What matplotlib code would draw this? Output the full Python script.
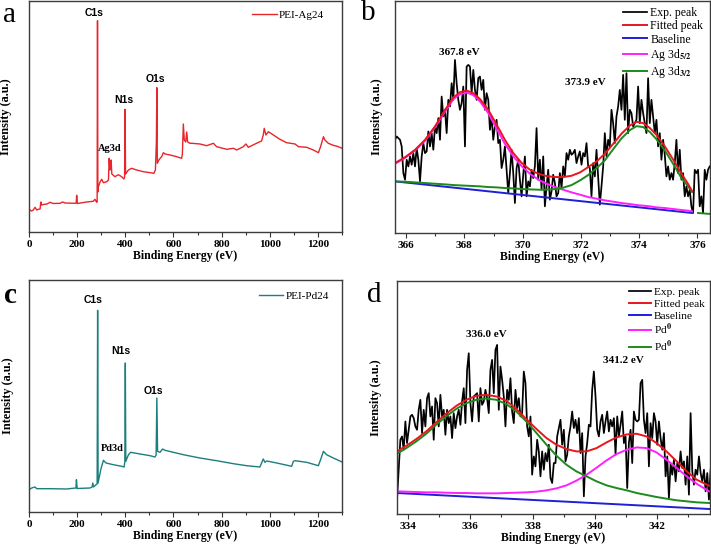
import numpy as np
import matplotlib
matplotlib.use('Agg')
import matplotlib.pyplot as plt
from matplotlib.ticker import MultipleLocator

plt.rcParams['font.family'] = ['Liberation Serif', 'DejaVu Serif']
plt.rcParams['font.weight'] = 'bold'
plt.rcParams['axes.labelweight'] = 'bold'
plt.rcParams['mathtext.fontset'] = 'stix'

# ---- survey spectra (binding energy in eV, intensity in a.u.) ----
ag_survey_ev = [0, 10, 18, 25, 32, 39, 46, 49, 52, 60, 75, 87, 100, 129, 140, 150, 191, 196, 198, 201,
                240, 267, 274, 281, 283, 284.5, 286, 288, 295, 302, 309, 323, 330, 333, 336, 338, 341, 344,
                357, 371, 385, 394, 397, 399, 401, 403, 413, 426, 447, 475, 503, 519, 525, 529, 531, 533,
                541, 551, 558, 565, 586, 613, 634, 637, 641, 645, 651, 655, 659, 668, 676, 710, 738, 766,
                779, 821, 849, 863, 890, 901, 911, 939, 959, 966, 973, 977, 984, 994, 1015, 1042, 1070,
                1105, 1119, 1153, 1181, 1202, 1211, 1223, 1229, 1243, 1264, 1285, 1300]
ag_survey_cps = [22.7, 21, 22, 24.7, 22, 22.7, 23, 30, 27, 27.5, 28, 29.7, 28.5, 28.7, 30, 29, 28.7, 29, 36.7, 28.5,
                 30, 30.7, 32.7, 29.7, 30, 211.3, 40, 45, 50, 52.7, 49.3, 50.3, 52, 73.7, 62, 65, 72, 58,
                 55.3, 57.3, 55.3, 53, 55, 122.7, 58, 58.7, 62, 63.7, 62, 60.3, 59.3, 58.7, 62, 90, 144.3, 68.7,
                 72.7, 75.3, 79.3, 78, 77, 75.3, 73.7, 78, 108, 92, 90, 100, 90, 88.7, 88.7, 88, 86.3, 88.7,
                 85.3, 82.7, 83.7, 82, 85.3, 88, 84.7, 88, 90.3, 91, 97, 103.7, 97, 100.3, 97, 92.7, 89.3,
                 88, 85.3, 84.7, 82, 79.3, 85.3, 95.3, 92, 88.7, 86.7, 85.3, 83.7]

pd_survey_ev = [0, 11, 25, 32, 87, 156, 195, 197, 200, 253, 262, 265, 268, 278, 283, 285, 287, 298, 309,
                320, 350, 385, 395, 398, 400, 402, 413, 422, 461, 503, 523, 528, 531, 534, 544, 555, 565,
                641, 710, 779, 849, 904, 959, 966, 973, 980, 987, 1029, 1091, 1098, 1105, 1153, 1202, 1211,
                1223, 1236, 1264, 1300]
pd_survey_cps = [22.3, 24, 25, 23.3, 23.3, 23, 24, 32.3, 23.5, 24, 25, 29, 25, 27.3, 28, 201.7, 29, 42.3, 51.7,
                 49, 47.3, 45.7, 45, 50, 149, 50.7, 57.3, 59.7, 58, 56.3, 55, 57, 114, 60.7, 59.7, 63, 61.7,
                 57.3, 54, 51.3, 48.3, 46.3, 45, 49, 53, 49.7, 51, 49, 45.7, 50.7, 51.3, 49.7, 46.3, 52.3,
                 60.7, 57.3, 54, 50]

# ---- Ag 3d high resolution ----
ag_exp_range = (365.62, 376.42)
ag_exp_cps = [280, 290, 285, 280, 260, 180, 160, 220, 200, 230, 205, 240, 200, 255, 220, 155, 230, 270, 240, 245,
              305, 260, 300, 250, 320, 300, 345, 280, 410, 350, 370, 300, 400, 380, 450, 400, 520, 450, 400, 370,
              390, 440, 260, 500, 505, 500, 420, 490, 430, 400, 465, 470, 430, 460, 370, 420, 400, 310, 350, 280,
              320, 340, 270, 280, 195, 220, 260, 190, 120, 180, 250, 180, 90, 195, 220, 160, 110, 175, 230, 110,
              155, 140, 190, 165, 200, 315, 160, 220, 130, 230, 80, 140, 190, 100, 125, 175, 150, 110, 120, 180,
              135, 200, 170, 240, 220, 250, 235, 240, 250, 210, 230, 245, 205, 240, 230, 270, 200, 195, 110, 210,
              170, 250, 170, 85, 140, 200, 300, 230, 280, 260, 370, 330, 270, 350, 380, 430, 370, 475, 340, 480,
              300, 370, 360, 320, 330, 340, 440, 330, 400, 360, 330, 300, 465, 330, 400, 350, 300, 340, 260, 300,
              220, 280, 235, 170, 200, 160, 180, 160, 210, 280, 180, 250, 160, 180, 110, 140, 110, 130, 80, 60,
              190, 180, 190, 80, 110, 60, 190, 160, 190, 200]
ag_fit_ev = [365.62, 365.97, 366.31, 366.65, 366.99, 367.34, 367.62, 367.85, 368.08, 368.31, 368.54, 368.82,
             369.11, 369.39, 369.68, 369.97, 370.25, 370.54, 370.82, 371.11, 371.39, 371.68, 371.97, 372.25,
             372.54, 372.82, 373.11, 373.39, 373.68, 373.91, 374.14, 374.37, 374.59, 374.88, 375.17, 375.45,
             375.68, 375.82]
ag_fit_total = [210, 228, 250, 280, 320, 370, 407, 423, 428, 420, 402, 370, 325, 280, 240, 210, 190, 178, 171,
                168, 168, 172, 182, 198, 215, 238, 268, 298, 323, 334, 330, 315, 295, 260, 220, 178, 147, 125]
ag_fit_52 = [208, 226, 248, 277, 317, 365, 402, 417, 422, 414, 395, 360, 313, 268, 230, 200, 178, 160, 148,
             138, 130, 122, 115, 108, 103, 98, 94, 90, 87, 84, 82, 80, 77, 75, 72, 69, 67, 65]
ag_fit_32 = [155, 154, 152, 150, 148, 146, 144, 143, 142, 141, 140, 138, 137, 135, 134, 132, 131, 130, 130,
             132, 136, 144, 158, 174, 195, 218, 252, 284, 309, 321, 318, 303, 282, 248, 207, 165, 140, 123]
ag_base_ev = [365.62, 375.82]
ag_base = [155, 60]
ag_tail_ev = [376.02, 376.46]
ag_tail = [60, 57]

# ---- Pd 3d high resolution ----
pd_exp_range = (333.64, 343.73)
pd_exp_cps = [43, 133, 223, 233, 193, 278, 213, 253, 293, 298, 288, 263, 253, 313, 343, 243, 313, 263, 348, 363,
              293, 323, 223, 348, 333, 263, 358, 293, 313, 238, 313, 273, 293, 228, 303, 258, 293, 313, 268, 338,
              378, 273, 433, 483, 333, 278, 353, 358, 363, 278, 378, 328, 338, 373, 348, 303, 433, 463, 363, 493,
              508, 313, 443, 403, 353, 263, 373, 343, 408, 308, 273, 373, 318, 348, 293, 303, 428, 393, 263, 233,
              293, 118, 173, 143, 223, 188, 113, 188, 133, 183, 158, 208, 108, 93, 153, 153, 233, 258, 283, 208,
              253, 158, 178, 233, 263, 308, 258, 283, 243, 288, 183, 243, 53, 173, 213, 268, 263, 373, 428, 353,
              253, 233, 278, 298, 243, 278, 308, 248, 283, 263, 288, 178, 293, 233, 268, 308, 213, 233, 78, 213,
              253, 153, 308, 283, 278, 283, 393, 403, 283, 243, 303, 143, 273, 228, 303, 278, 208, 278, 228, 193,
              243, 113, 173, 48, 153, 118, 163, 98, 153, 128, 188, 138, 158, 88, 173, 58, 303, 128, 88, 133,
              118, 173, 123, 98, 133, 68, 123, 43, 133]
pd_fit_ev = [333.64, 333.94, 334.26, 334.58, 334.90, 335.22, 335.55, 335.87, 336.19, 336.51, 336.84, 337.16,
             337.48, 337.80, 338.13, 338.45, 338.77, 339.09, 339.41, 339.74, 340.06, 340.38, 340.70, 341.03,
             341.35, 341.67, 341.99, 342.31, 342.64, 342.96, 343.28, 343.68]
pd_fit_total = [188, 205, 225, 248, 275, 301, 325, 343, 355, 358, 353, 340, 315, 285, 255, 228, 208, 195, 188,
                188, 198, 215, 230, 239, 241, 233, 213, 188, 158, 128, 103, 85]
pd_fit_a = [181, 198, 218, 241, 268, 293, 316, 333, 343, 347, 343, 330, 308, 278, 243, 208, 175, 148, 128,
            113, 98, 86, 78, 71, 63, 57, 51, 46, 41, 38, 35, 33]
pd_fit_b = [68, 67, 66, 65, 65, 64, 63, 63, 62, 62, 62, 63, 64, 65, 67, 71, 77, 86, 100, 118, 139, 161, 180,
            193, 200, 198, 185, 163, 138, 113, 91, 68]
pd_base_ev = [333.64, 343.68]
pd_base = [63, 15]

RED = '#e8161d'
BLUE = '#1f1fd6'
MAGENTA = '#ff20ff'
GREEN = '#1c8a1c'
EXP_LW = 1.25
FIT_LW = 1.4


def style(ax, lo, hi, major, minor, ylim):
    ax.set_xlim(lo, hi)
    ax.set_ylim(*ylim)
    ax.set_yticks([])
    ax.xaxis.set_major_locator(MultipleLocator(major))
    ax.xaxis.set_minor_locator(MultipleLocator(minor))
    ax.tick_params(axis='x', which='major', direction='out', length=3.5, width=0.8,
                   labelsize=8, pad=2, color='#333333')
    ax.tick_params(axis='x', which='minor', direction='out', length=2.5, width=0.8, color='#333333')
    for s in ax.spines.values():
        s.set_linewidth(1.0)
        s.set_color('#3c3c3c')
    ax.set_xlabel('Binding Energy (eV)', fontsize=8.5, labelpad=1)


fig = plt.figure(figsize=(7.11, 5.5), dpi=100)

# (a) Ag survey
ax = fig.add_axes([0.0408, 0.5782, 0.4402, 0.42])
ax.plot(ag_survey_ev, ag_survey_cps, color='#e8252a', lw=1.0, label='PEI-Ag24')
style(ax, 0, 1300, 200, 100, (0, 231))
ax.set_ylabel('Intensity (a.u.)', fontsize=8.8, labelpad=12)
ax.legend(loc='upper left', bbox_to_anchor=(0.712, 0.961), frameon=False, handlelength=2.25,
          handletextpad=0.2, borderpad=0, borderaxespad=0, prop={'size': 8, 'weight': 'normal'})
sans = {'family': ['Liberation Sans', 'DejaVu Sans'], 'weight': 'bold', 'size': 7.5}
ax.text(270, 219, 'C1s', ha='center', va='center', fontdict=sans)
ax.text(395, 132, 'N1s', ha='center', va='center', fontdict=sans)
ax.text(523, 153, 'O1s', ha='center', va='center', fontdict=sans)
ax.text(336, 83, 'Ag3d', ha='center', va='center', fontsize=7.5)

# (b) Ag 3d
ax = fig.add_axes([0.5556, 0.5764, 0.443, 0.4218])
ag_exp_ev = np.linspace(ag_exp_range[0], ag_exp_range[1], len(ag_exp_cps))
l_exp, = ax.plot(ag_exp_ev, ag_exp_cps, color='black', lw=EXP_LW)
l_base, = ax.plot(ag_base_ev, ag_base, color=BLUE, lw=FIT_LW)
l_52, = ax.plot(ag_fit_ev, ag_fit_52, color=MAGENTA, lw=FIT_LW)
l_32, = ax.plot(ag_fit_ev, ag_fit_32, color=GREEN, lw=FIT_LW)
ax.plot(ag_tail_ev, ag_tail, color=GREEN, lw=FIT_LW)
l_fit, = ax.plot(ag_fit_ev, ag_fit_total, color=RED, lw=FIT_LW)
style(ax, 365.62, 376.43, 2, 1, (0, 697))
ax.set_ylabel('Intensity (a.u.)', fontsize=8.8, labelpad=9)
ax.legend([l_exp, l_fit, l_base, l_52, l_32],
          ['Exp. peak', 'Fitted peak', 'Baseline', 'Ag 3d$_{5/2}$', 'Ag 3d$_{3/2}$'],
          loc='upper left', bbox_to_anchor=(0.724, 0.975), frameon=False, handlelength=2.0,
          handletextpad=0.3, labelspacing=0.12, borderpad=0, borderaxespad=0,
          prop={'size': 8.5, 'weight': 'normal'})
ax.text(367.82, 541, '367.8 eV', ha='center', va='center', fontsize=8)
ax.text(372.14, 451, '373.9 eV', ha='center', va='center', fontsize=8)

# (c) Pd survey
ax = fig.add_axes([0.0408, 0.0691, 0.4402, 0.4218])
ax.plot(pd_survey_ev, pd_survey_cps, color='#1b7f7d', lw=1.0, label='PEI-Pd24')
style(ax, 0, 1300, 200, 100, (0, 232))
ax.set_ylabel('Intensity (a.u.)', fontsize=8.8, labelpad=11)
ax.legend(loc='upper left', bbox_to_anchor=(0.735, 0.95), frameon=False, handlelength=2.2,
          handletextpad=0.2, borderpad=0, borderaxespad=0, prop={'size': 8, 'weight': 'normal'})
ax.text(266, 211.6, 'C1s', ha='center', va='center', fontdict=sans)
ax.text(382, 160.6, 'N1s', ha='center', va='center', fontdict=sans)
ax.text(515, 120.6, 'O1s', ha='center', va='center', fontdict=sans)
ax.text(345, 63, 'Pd3d', ha='center', va='center', fontsize=7.5)

# (d) Pd 3d
ax = fig.add_axes([0.5584, 0.0655, 0.4402, 0.4236])
pd_exp_ev = np.linspace(pd_exp_range[0], pd_exp_range[1], len(pd_exp_cps))
l_exp, = ax.plot(pd_exp_ev, pd_exp_cps, color='black', lw=EXP_LW)
l_base, = ax.plot(pd_base_ev, pd_base, color=BLUE, lw=FIT_LW)
l_b, = ax.plot(pd_fit_ev, pd_fit_b, color=MAGENTA, lw=FIT_LW)
l_a, = ax.plot(pd_fit_ev, pd_fit_a, color=GREEN, lw=FIT_LW)
l_fit, = ax.plot(pd_fit_ev, pd_fit_total, color=RED, lw=FIT_LW)
style(ax, 333.64, 343.71, 2, 1, (0, 700))
ax.set_ylabel('Intensity (a.u.)', fontsize=8.8, labelpad=11)
ax.legend([l_exp, l_fit, l_base, l_b, l_a],
          ['Exp. peak', 'Fitted peak', 'Baseline', 'Pd$^{0}$', 'Pd$^{0}$'],
          loc='upper left', bbox_to_anchor=(0.74, 0.973), frameon=False, handlelength=2.0,
          handletextpad=0.2, labelspacing=0.15, borderpad=0, borderaxespad=0,
          prop={'size': 8.2, 'weight': 'normal'})
ax.text(336.52, 538, '336.0 eV', ha='center', va='center', fontsize=8)
ax.text(340.91, 460, '341.2 eV', ha='center', va='center', fontsize=8)

# panel letters
for x, y, s, w in [(0.014, 0.972, 'a', 'normal'), (0.518, 0.977, 'b', 'normal'),
                   (0.014, 0.463, 'c', 'bold'), (0.526, 0.463, 'd', 'normal')]:
    fig.text(x, y, s, fontsize=21, fontweight=w, ha='center', va='center')

fig.savefig('out.png', dpi=100)
